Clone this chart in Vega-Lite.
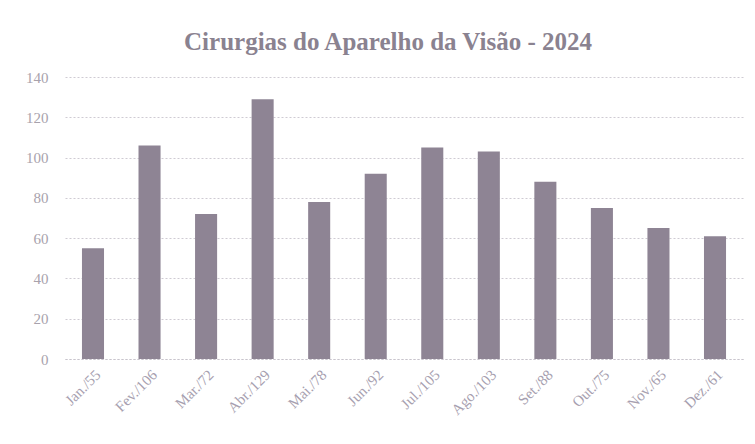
{
  "$schema": "https://vega.github.io/schema/vega-lite/v6.json",
  "width": 678,
  "height": 282,
  "autosize": {"type": "none"},
  "padding": {"left": 65, "top": 77, "right": 12, "bottom": 85},
  "background": "white",
  "title": {
    "text": "Cirurgias do Aparelho da Visão - 2024",
    "font": "Liberation Serif",
    "fontSize": 25,
    "fontWeight": "bold",
    "color": "#8a8290",
    "dx": -16,
    "offset": 15
  },
  "data": {
    "values": [
      {"mes": "Jan./55", "valor": 55},
      {"mes": "Fev./106", "valor": 106},
      {"mes": "Mar./72", "valor": 72},
      {"mes": "Abr./129", "valor": 129},
      {"mes": "Mai./78", "valor": 78},
      {"mes": "Jun./92", "valor": 92},
      {"mes": "Jul./105", "valor": 105},
      {"mes": "Ago./103", "valor": 103},
      {"mes": "Set./88", "valor": 88},
      {"mes": "Out./75", "valor": 75},
      {"mes": "Nov./65", "valor": 65},
      {"mes": "Dez./61", "valor": 61}
    ]
  },
  "mark": {"type": "bar", "color": "#8e8494"},
  "encoding": {
    "x": {
      "field": "mes",
      "type": "nominal",
      "sort": null,
      "title": null,
      "scale": {"paddingInner": 0.61, "paddingOuter": 0.3},
      "axis": {
        "labelAngle": -45,
        "labelFont": "Liberation Serif",
        "labelFontSize": 15,
        "labelColor": "#a79fb0",
        "domainColor": "#c8c4cc",
        "domainDash": [2, 2],
        "ticks": false,
        "labelPadding": 8
      }
    },
    "y": {
      "field": "valor",
      "type": "quantitative",
      "title": null,
      "scale": {"domain": [0, 140]},
      "axis": {
        "values": [0, 20, 40, 60, 80, 100, 120, 140],
        "labelFont": "Liberation Serif",
        "labelFontSize": 15,
        "labelColor": "#a8a2ac",
        "labelPadding": 17,
        "domain": false,
        "ticks": false,
        "gridColor": "#cfcbd3",
        "gridDash": [2, 2]
      }
    }
  },
  "config": {"view": {"stroke": null}}
}
